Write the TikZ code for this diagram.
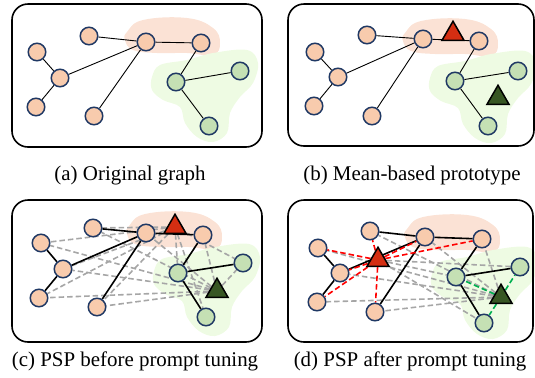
\documentclass[tikz,border=0pt]{standalone}
\usepackage{fontspec}
\setmainfont{Liberation Serif}
\usetikzlibrary{shapes.geometric}
\definecolor{nodeor}{HTML}{F8CBAD}
\definecolor{nodegr}{HTML}{C5E0B4}
\definecolor{navy}{HTML}{1F3864}
\definecolor{bloboR}{HTML}{FBE2D5}
\definecolor{blobgR}{HTML}{EEFBE3}
\definecolor{protored}{HTML}{D42E12}
\definecolor{protogreen}{HTML}{375623}
\definecolor{dashgray}{HTML}{A6A6A6}
\definecolor{dashgreen}{HTML}{00B050}
\pgfdeclarelayer{blob}
\pgfdeclarelayer{edges}
\pgfsetlayers{blob,edges,main}
\newcommand\myorangeblob{plot[smooth cycle, tension=0.7] coordinates {(127,32) (143,20) (187,18) (213,28) (220,43) (213,55) (187,53) (157,53) (133,50) (125,40)}}
\newcommand\mygreenblob{plot[smooth cycle, tension=0.6] coordinates {(152,77) (160,65) (187,60) (213,53) (247,50) (258,63) (253,83) (240,97) (230,113) (227,133) (213,142) (197,137) (185,123) (180,107) (163,100) (152,90)}}
\tikzset{
  panel/.style={draw=black, line width=1.6bp, rounded corners=16bp},
  onode/.style={circle, minimum size=17.5bp, inner sep=0pt, draw=navy, line width=1.5bp, fill=nodeor},
  gnode/.style={circle, minimum size=17.5bp, inner sep=0pt, draw=navy, line width=1.5bp, fill=nodegr},
  redtri/.style={regular polygon, regular polygon sides=3, minimum size=25.5bp, inner sep=0pt, draw=black, line width=1.5bp, fill=protored},
  greentri/.style={regular polygon, regular polygon sides=3, minimum size=25.5bp, inner sep=0pt, draw=black, line width=1.5bp, fill=protogreen},
  thinedge/.style={draw=black, line width=0.9bp},
  thickedge/.style={draw=black, line width=1.6bp},
  grayd/.style={draw=dashgray, line width=1.6bp, dash pattern=on 5.5bp off 3bp},
  redd/.style={draw=red, line width=1.6bp, dash pattern=on 5.5bp off 3bp},
  greend/.style={draw=dashgreen, line width=1.6bp, dash pattern=on 5.5bp off 3bp},
  captext/.style={font=\fontsize{21}{24}\selectfont, anchor=base, inner sep=0pt}
}
\begin{document}
\begin{tikzpicture}[x=1bp,y=-1bp]
\useasboundingbox (0,0) rectangle (535,377);
\begin{pgfonlayer}{blob}
\fill[bloboR] \myorangeblob;
\fill[blobgR] \mygreenblob;
\begin{scope}[shift={(278,1)}]
\fill[bloboR] \myorangeblob;
\fill[blobgR] \mygreenblob;
\end{scope}
\begin{scope}[shift={(2,194)}]
\fill[bloboR] \myorangeblob;
\fill[blobgR] \mygreenblob;
\end{scope}
\begin{scope}[shift={(280,197)}]
\fill[bloboR] \myorangeblob;
\fill[blobgR] \mygreenblob;
\end{scope}
\end{pgfonlayer}
\draw[panel] (12,4) rectangle (262,147);
\draw[panel] (288,4) rectangle (534,146);
\draw[panel] (12,200) rectangle (262,342);
\draw[panel] (288,200) rectangle (533,342);
% nodes (a)
\node[onode] (a1) at (89,36) {};
\node[onode] (a2) at (37,52) {};
\node[onode] (a3) at (60,78) {};
\node[onode] (a4) at (36,107) {};
\node[onode] (a5) at (94,116) {};
\node[onode] (a6) at (146,42) {};
\node[onode] (a7) at (201,43) {};
\node[gnode] (ag1) at (176,82) {};
\node[gnode] (ag2) at (240,71) {};
\node[gnode] (ag3) at (209,126) {};
% nodes (b)
\node[onode] (b1) at (367,35) {};
\node[onode] (b2) at (315,52) {};
\node[onode] (b3) at (338,77) {};
\node[onode] (b4) at (314,106) {};
\node[onode] (b5) at (372,116) {};
\node[onode] (b6) at (423,39) {};
\node[onode] (b7) at (479,41) {};
\node[gnode] (bg1) at (455,81) {};
\node[gnode] (bg2) at (518,71) {};
\node[gnode] (bg3) at (488,126) {};
\node[redtri] (br) at (453,34) {};
\node[greentri] (bgr) at (498,98) {};
% nodes (c)
\node[onode] (c1) at (93,228) {};
\node[onode] (c2) at (41,243) {};
\node[onode] (c3) at (63,269) {};
\node[onode] (c4) at (39,298) {};
\node[onode] (c5) at (97,307) {};
\node[onode] (c6) at (146,233) {};
\node[onode] (c7) at (203,235) {};
\node[gnode] (cg1) at (178,273) {};
\node[gnode] (cg2) at (243,263) {};
\node[gnode] (cg3) at (206,317) {};
\node[redtri] (cr) at (175,227) {};
\node[greentri] (cgr) at (217,291) {};
% nodes (d)
\node[onode] (d1) at (370,231) {};
\node[onode] (d2) at (318,248) {};
\node[onode] (d3) at (340,273) {};
\node[onode] (d4) at (317,302) {};
\node[onode] (d5) at (375,312) {};
\node[onode] (d6) at (425,237) {};
\node[onode] (d7) at (482,239) {};
\node[gnode] (dg1) at (456,277) {};
\node[gnode] (dg2) at (520,267) {};
\node[gnode] (dg3) at (484,323) {};
\node[redtri] (dr) at (378,260) {};
\node[greentri] (dgr) at (501,297) {};
\begin{pgfonlayer}{edges}
\draw[thinedge] (a1)--(a6) (a2)--(a3) (a3)--(a4) (a3)--(a6) (a5)--(a6) (a6)--(a7) (a7)--(ag1) (ag1)--(ag2) (ag1)--(ag3);
\draw[thinedge] (b1)--(b6) (b2)--(b3) (b3)--(b4) (b3)--(b6) (b5)--(b6) (b6)--(b7) (b7)--(bg1) (bg1)--(bg2) (bg1)--(bg3);
\foreach \n in {c1,c2,c3,c4,c5,cg1,cg2,cg3} \draw[grayd] (cr)--(\n);
\foreach \n in {c1,c2,c3,c4,c5,c6,c7,cg2} \draw[grayd] (cgr)--(\n);
\draw[thickedge] (c1)--(c6) (c2)--(c3) (c3)--(c4) (c3)--(c6) (c5)--(c6) (c6)--(c7) (c7)--(cg1) (cg1)--(cg2) (cg1)--(cg3);
\foreach \n in {dg1,dg2,dg3} \draw[grayd] (dr)--(\n);
\foreach \n in {d1,d2,d3,d4,d5,d6,d7} \draw[grayd] (dgr)--(\n);
\draw[thickedge] (d1)--(d6) (d2)--(d3) (d3)--(d4) (d3)--(d6) (d5)--(d6) (d6)--(d7) (d7)--(dg1) (dg1)--(dg2) (dg1)--(dg3);
\foreach \n in {d1,d2,d3,d4,d5,d6,d7} \draw[redd] (dr)--(\n);
\foreach \n in {dg1,dg2,dg3} \draw[greend] (dgr)--(\n);
\end{pgfonlayer}
\node[captext] (capa) at (130,180) {(a) Original graph};
\node[captext] (capb) at (412,180) {(b) Mean-based prototype};
\node[captext] (capc) at (135,366) {(c) PSP before prompt tuning};
\node[captext] (capd) at (410,366) {(d) PSP after prompt tuning};
\end{tikzpicture}
\end{document}
